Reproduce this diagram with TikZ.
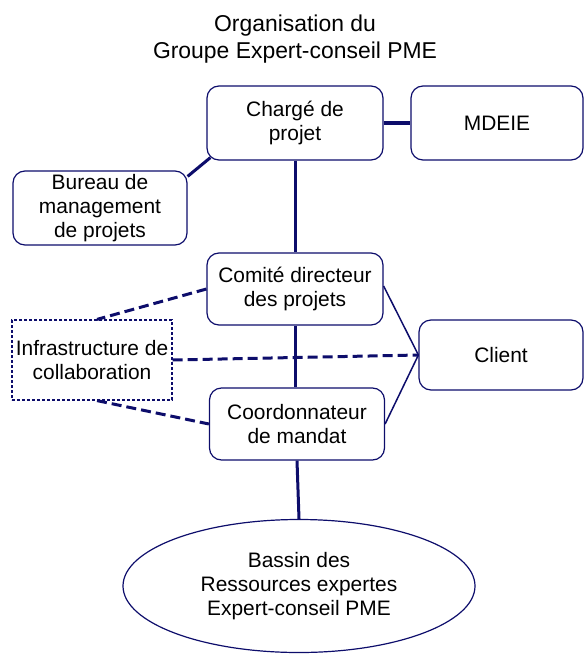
\documentclass[tikz,border=0pt]{standalone}
\usepackage{fontspec}
\setmainfont{Liberation Sans}
\usepackage{pgf, tikz}
\usetikzlibrary{calc, shapes.geometric}
\definecolor{navy}{rgb}{0.05,0.05,0.42}

\begin{document}
\begin{tikzpicture} [x=1bp, y=-1bp, align=center, font=\fontsize{21}{24}\selectfont,
  box/.style={rectangle, rounded corners=12bp, draw=navy, line width=1.2bp, inner sep=0pt},
  link/.style={navy, line width=3bp},
  thin link/.style={navy, line width=1.5bp},
  dash link/.style={navy, line width=3bp, dash pattern=on 10bp off 5bp}]
\useasboundingbox (0, 0) rectangle (584, 654);
\path (295, 39.5) node[inner sep=0pt, font=\fontsize{23}{27}\selectfont] (title) {Organisation du\\Groupe Expert-conseil PME}
      (295, 123) node[box, minimum width=176bp, minimum height=74bp] (charge) {Chargé de\\projet}
      (497, 123) node[box, minimum width=172bp, minimum height=74bp] (mdeie) {MDEIE}
      (100, 208) node[box, minimum width=174bp, minimum height=74bp] (bureau) {Bureau de\\management\\de projets}
      (295, 289) node[box, minimum width=176bp, minimum height=72bp] (comite) {Comité directeur\\des projets}
      (92, 360) node[draw=navy, line width=1.2bp, dash pattern=on 3bp off 2bp, minimum width=160bp, minimum height=80bp, inner sep=0pt] (infra) {Infrastructure de\\collaboration}
      (501, 355) node[box, minimum width=164bp, minimum height=70bp] (client) {Client}
      (297, 424) node[box, minimum width=175bp, minimum height=72bp] (coord) {Coordonnateur\\de mandat}
      (299, 586) node[ellipse, draw=navy, line width=1.2bp, minimum width=352bp, minimum height=133bp, inner sep=0pt] (bassin) {Bassin des\\Ressources expertes\\Expert-conseil PME};

\draw[link] (charge.east) -- (mdeie.west);
\draw[link] ($(bureau.north east)+(0,6)$) -- ($(charge.south west)+(4,-3)$);
\draw[link] (charge.south) -- (comite.north);
\draw[link] (comite.south) -- (comite.south |- coord.north);
\draw[link] (coord.south) -- (bassin.north);

\draw[thin link] ($(comite.east)+(0,-3)$) -- (client.west);
\draw[thin link] (coord.east) -- (client.west);

\draw[dash link] (comite.west) -- ($(infra.north)+(5,0)$);
\draw[dash link] (infra.east) -- (client.west);
\draw[dash link] ($(infra.south)+(5,0)$) -- (coord.west);
\end{tikzpicture}
\end{document}
